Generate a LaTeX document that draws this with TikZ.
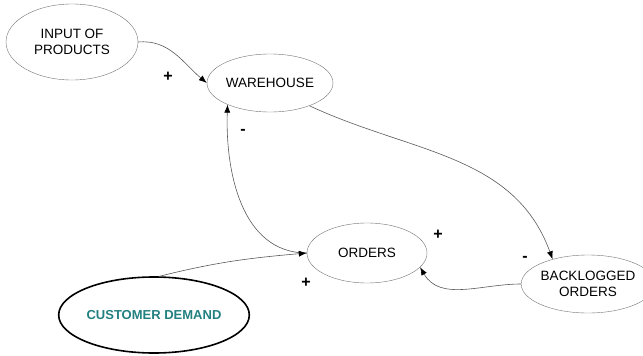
\documentclass[tikz,border=0pt]{standalone}
\usepackage{fontspec}
\setmainfont{Liberation Sans}
\usetikzlibrary{shapes.geometric, arrows.meta}
\definecolor{demandteal}{RGB}{35,128,128}

\begin{document}
\begin{tikzpicture}[x=1pt, y=-1pt,
  stock/.style={draw=gray!90!black, ellipse, inner sep=0pt, align=center,
    font=\fontsize{13.5}{16}\selectfont},
  link/.style={gray!70!black, semithick, -{Latex[length=8pt, width=6pt, color=black]}},
  sign/.style={font=\fontsize{16}{16}\selectfont\bfseries}]
\useasboundingbox (0,0) rectangle (643,356);

\node [stock, minimum width=132, minimum height=76] (input) at (72,42) {INPUT OF\\PRODUCTS};
\node [stock, minimum width=126, minimum height=58] (warehouse) at (270,83) {WAREHOUSE};
\node [stock, minimum width=120, minimum height=60] (orders) at (367,253) {ORDERS};
\node [stock, minimum width=108, minimum height=58] (backlog) at (588,284) {BACKLOGGED\\ORDERS};
\node [stock, draw=black, line width=1.6pt, minimum width=153, minimum height=76,
  text=demandteal, font=\fontsize{13}{16}\selectfont\bfseries] (demand) at (154,315) {CUSTOMER DEMAND};

\draw [link] (input.east) to [out=5, in=140] (warehouse.west);
\draw [link] (orders.west) to [out=180, in=-92] (warehouse.-153);
\draw [link] (warehouse.-30) to [out=-25, in=110] (backlog.145);
\draw [link] (backlog.west) to [out=180, in=-60] (orders.-15);
\draw [link] (demand.82) to [out=14, in=185] (orders.west);

\node [sign] (s1) at (168,77) {+};
\node [sign] (s2) at (243,132) {-};
\node [sign] (s3) at (438,235) {+};
\node [sign] (s4) at (525,259) {-};
\node [sign] (s5) at (306,283) {+};
\end{tikzpicture}
\end{document}
